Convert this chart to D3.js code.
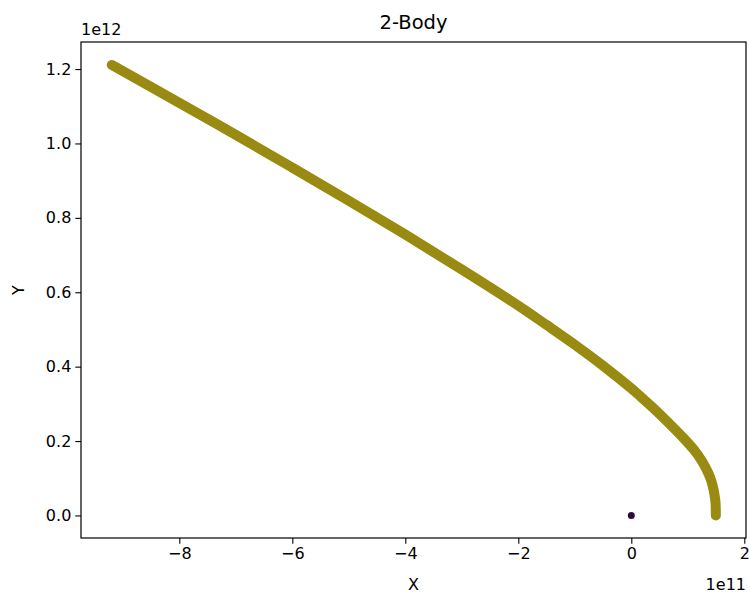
<!DOCTYPE html>
<html>
<head>
<meta charset="utf-8">
<script src="https://cdn.jsdelivr.net/npm/d3@7"></script>
<style>
  html, body { margin: 0; padding: 0; background: #fff; }
  svg { display: block; font-family: "DejaVu Sans", sans-serif; }
</style>
</head>
<body>
<svg id="chart" width="750" height="597"></svg>
<script>
// ---- data (metres) ----
const bodyX = [1.496e11, 1.49e11, 1.47e11, 1.44e11, 1.40e11, 1.33e11, 1.25e11, 1.10e11, 0.90e11, 0.667e11,
               0.419e11, 0.154e11, 0.0, -0.5e11, -1.0e11, -1.5e11, -2.0e11, -3.0e11, -4.0e11, -5.0e11,
               -6.0e11, -7.0e11, -8.0e11, -9.196e11];
const bodyY = [0.000e12, 0.035e12, 0.058e12, 0.080e12, 0.100e12, 0.124e12, 0.146e12, 0.178e12, 0.212e12, 0.248e12,
               0.2847e12, 0.321e12, 0.3415e12, 0.4025e12, 0.459e12, 0.512e12, 0.564e12, 0.661e12, 0.755e12, 0.846e12,
               0.935e12, 1.023e12, 1.109e12, 1.211e12];
const sunX = [0];
const sunY = [0];
const xTicks = [-8e11, -6e11, -4e11, -2e11, 0, 2e11];
const yTicks = [0, 0.2e12, 0.4e12, 0.6e12, 0.8e12, 1.0e12, 1.2e12];
const xTickLabels = ["\u22128", "\u22126", "\u22124", "\u22122", "0", "2"];
const yTickLabels = ["0.0", "0.2", "0.4", "0.6", "0.8", "1.0", "1.2"];
const titleText = "2-Body";
const xLabel = "X", yLabel = "Y";
const xOffsetText = "1e11", yOffsetText = "1e12";

// ---- layout ----
const L = 81, R = 746, T = 42, B = 538;
const svg = d3.select("#chart");

const x = d3.scaleLinear().domain([-9.74e11, 2.03e11]).range([L, R]);
const y = d3.scaleLinear().domain([-0.0606e12, 1.2727e12]).range([B, T]);

// trajectory
const pts = bodyX.map((v, i) => [v, bodyY[i]]);
const line = d3.line().x(d => x(d[0])).y(d => y(d[1])).curve(d3.curveCatmullRom.alpha(0.5));
svg.append("path")
  .attr("d", line(pts))
  .attr("fill", "none")
  .attr("stroke", "#998b12")
  .attr("stroke-width", 10)
  .attr("stroke-linecap", "round")
  .attr("stroke-linejoin", "round");

// sun
svg.selectAll("circle.sun").data(sunX.map((v, i) => [v, sunY[i]])).enter()
  .append("circle").attr("class", "sun")
  .attr("cx", d => x(d[0])).attr("cy", d => y(d[1]))
  .attr("r", 3.5).attr("fill", "#330a40");

// axes
const xAxis = d3.axisBottom(x).tickValues(xTicks).tickSize(5.7).tickPadding(4)
  .tickFormat((d, i) => xTickLabels[i]);
const yAxis = d3.axisLeft(y).tickValues(yTicks).tickSize(5.7).tickPadding(4)
  .tickFormat((d, i) => yTickLabels[i]);

const gx = svg.append("g").attr("transform", `translate(0,${B})`).call(xAxis);
const gy = svg.append("g").attr("transform", `translate(${L},0)`).call(yAxis);
[gx, gy].forEach(g => {
  g.select(".domain").remove();
  g.selectAll(".tick line").attr("stroke", "#000").attr("stroke-width", 1.1);
  g.selectAll(".tick text").attr("fill", "#000").style("font-size", "16px")
    .style("font-family", "'DejaVu Sans', sans-serif");
});

// frame
svg.append("rect").attr("x", L).attr("y", T).attr("width", R - L).attr("height", B - T)
  .attr("fill", "none").attr("stroke", "#000").attr("stroke-width", 1.2);

// title & labels
svg.append("text").attr("x", (L + R) / 2).attr("y", 29).attr("text-anchor", "middle")
  .style("font-size", "19.5px").attr("fill", "#000").text(titleText);
svg.append("text").attr("x", (L + R) / 2).attr("y", 590).attr("text-anchor", "middle")
  .style("font-size", "16px").attr("fill", "#000").text(xLabel);
svg.append("text").attr("transform", `translate(24,${(T + B) / 2}) rotate(-90)`).attr("text-anchor", "middle")
  .style("font-size", "16px").attr("fill", "#000").text(yLabel);
svg.append("text").attr("x", R).attr("y", 590).attr("text-anchor", "end")
  .style("font-size", "16px").attr("fill", "#000").text(xOffsetText);
svg.append("text").attr("x", L).attr("y", 35).attr("text-anchor", "start")
  .style("font-size", "16px").attr("fill", "#000").text(yOffsetText);
</script>
</body>
</html>
